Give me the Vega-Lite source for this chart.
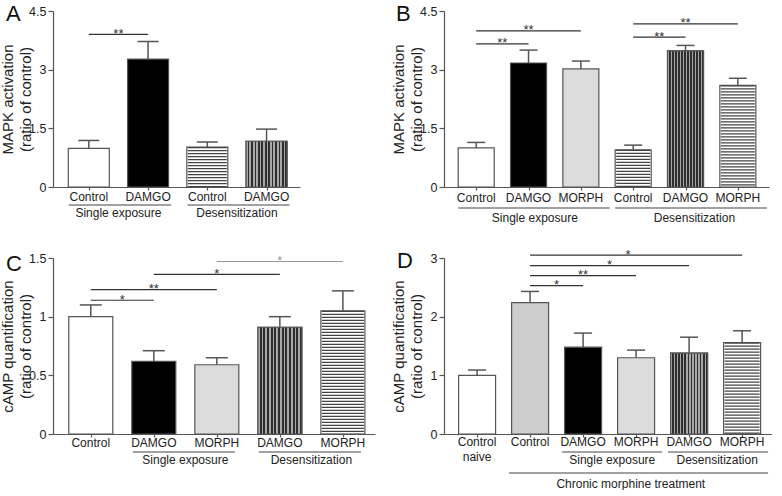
{
"$schema": "https://vega.github.io/schema/vega-lite/v6.json",
"background": "white",
"padding": {"left": 0, "top": 3, "right": 0, "bottom": 0},
"bounds": "flush",
"columns": 2,
"spacing": {"row": 71, "column": 69},
"config": {
  "font": "Liberation Sans",
  "view": {"stroke": null},
  "axis": {"grid": false, "domainColor": "#555", "domainWidth": 1.2, "tickColor": "#555", "tickWidth": 1.2, "labelColor": "#222", "labelFontSize": 12.5, "labelPadding": 2, "titleColor": "#222", "titleFontSize": 15, "titleFontWeight": "normal", "titleLineHeight": 18},
  "title": {"fontSize": 22, "fontWeight": "normal", "color": "#111", "anchor": "start", "frame": "group", "offset": 0, "baseline": "top"}
},
"datasets": {
  "bars": [
    {"panel":"A","i":0,"label":"Control","v":0.99,"hi":1.19,"pat":"white"},
    {"panel":"A","i":1,"label":"DAMGO","v":3.27,"hi":3.72,"pat":"black"},
    {"panel":"A","i":2,"label":"Control","v":1.02,"hi":1.15,"pat":"hstripe"},
    {"panel":"A","i":3,"label":"DAMGO","v":1.17,"hi":1.48,"pat":"vstripe"},
    {"panel":"B","i":0,"label":"Control","v":1.0,"hi":1.14,"pat":"white"},
    {"panel":"B","i":1,"label":"DAMGO","v":3.17,"hi":3.5,"pat":"black"},
    {"panel":"B","i":2,"label":"MORPH","v":3.02,"hi":3.22,"pat":"light"},
    {"panel":"B","i":3,"label":"Control","v":0.95,"hi":1.07,"pat":"hstripe"},
    {"panel":"B","i":4,"label":"DAMGO","v":3.48,"hi":3.62,"pat":"vstripe"},
    {"panel":"B","i":5,"label":"MORPH","v":2.6,"hi":2.78,"pat":"hstripe"},
    {"panel":"C","i":0,"label":"Control","v":1.0,"hi":1.1,"pat":"white"},
    {"panel":"C","i":1,"label":"DAMGO","v":0.62,"hi":0.71,"pat":"black"},
    {"panel":"C","i":2,"label":"MORPH","v":0.59,"hi":0.65,"pat":"light"},
    {"panel":"C","i":3,"label":"DAMGO","v":0.91,"hi":1.0,"pat":"vstripe"},
    {"panel":"C","i":4,"label":"MORPH","v":1.05,"hi":1.22,"pat":"hstripe"},
    {"panel":"D","i":0,"label":"Control\nnaive","v":1.0,"hi":1.09,"pat":"white"},
    {"panel":"D","i":1,"label":"Control","v":2.24,"hi":2.43,"pat":"dot"},
    {"panel":"D","i":2,"label":"DAMGO","v":1.48,"hi":1.72,"pat":"black"},
    {"panel":"D","i":3,"label":"MORPH","v":1.3,"hi":1.43,"pat":"light"},
    {"panel":"D","i":4,"label":"DAMGO","v":1.38,"hi":1.65,"pat":"vstripe"},
    {"panel":"D","i":5,"label":"MORPH","v":1.56,"hi":1.76,"pat":"hstripe"}
  ],
  "sigs": [
    {"panel":"A","a":0,"b":1,"mid":0.5,"y":3.9,"label":"**","tone":"dark"},
    {"panel":"B","a":0,"b":1,"mid":0.5,"y":3.66,"label":"**","tone":"dark"},
    {"panel":"B","a":0,"b":2,"mid":1,"y":3.99,"label":"**","tone":"dark"},
    {"panel":"B","a":3,"b":4,"mid":3.5,"y":3.83,"label":"**","tone":"dark"},
    {"panel":"B","a":3,"b":5,"mid":4,"y":4.17,"label":"**","tone":"dark"},
    {"panel":"C","a":0,"b":1,"mid":0.5,"y":1.14,"label":"*","tone":"dark"},
    {"panel":"C","a":0,"b":2,"mid":1,"y":1.23,"label":"**","tone":"dark"},
    {"panel":"C","a":1,"b":3,"mid":2,"y":1.36,"label":"*","tone":"dark"},
    {"panel":"C","a":2,"b":4,"mid":3,"y":1.47,"label":"*","tone":"light"},
    {"panel":"D","a":1,"b":2,"mid":1.5,"y":2.53,"label":"*","tone":"dark"},
    {"panel":"D","a":1,"b":3,"mid":2,"y":2.7,"label":"**","tone":"dark"},
    {"panel":"D","a":1,"b":4,"mid":2.5,"y":2.87,"label":"*","tone":"dark"},
    {"panel":"D","a":1,"b":5,"mid":2.85,"y":3.05,"label":"*","tone":"dark"}
  ],
  "groups": [
    {"panel":"A","a":0,"b":1,"mid":0.5,"label":"Single exposure","level":1},
    {"panel":"A","a":2,"b":3,"mid":2.5,"label":"Desensitization","level":1},
    {"panel":"B","a":0,"b":2,"mid":1.12,"label":"Single exposure","level":1},
    {"panel":"B","a":3,"b":5,"mid":4.17,"label":"Desensitization","level":1},
    {"panel":"C","a":1,"b":2,"mid":1.5,"label":"Single exposure","level":1},
    {"panel":"C","a":3,"b":4,"mid":3.5,"label":"Desensitization","level":1},
    {"panel":"D","a":2,"b":3,"mid":2.55,"label":"Single exposure","level":1},
    {"panel":"D","a":4,"b":5,"mid":4.53,"label":"Desensitization","level":1},
    {"panel":"D","a":1,"b":5,"mid":2.9,"label":"Chronic morphine treatment","level":2}
  ]
},
"concat": [
{
  "width": 247, "height": 176,
  "title": {"text": "A", "dx": -47, "dy": 25},
  "layer": [
    {"data": {"name": "bars"}, "transform": [{"filter": "datum.panel == 'A'"}],
     "mark": {"type": "bar", "orient": "vertical", "width": 41, "stroke": "#555", "strokeWidth": 1.2},
     "encoding": {
       "x": {"field": "i", "type": "quantitative", "scale": {"domain": [-0.52, 3.48], "nice": false, "zero": false}, "axis": {"values": [0,1,2,3], "labels": false, "tickSize": 3, "title": null}},
       "y": {"field": "v", "type": "quantitative", "scale": {"domain": [0, 4.5], "nice": false}, "axis": {"values": [0,1.5,3,4.5], "format": ".1~f", "tickSize": 5, "title": ["MAPK activation", "(ratio of control)"], "titleX": -38}},
       "fill": {"field": "pat", "type": "nominal", "scale": {"domain": ["white","black","light","dot","hstripe","vstripe"], "range": ["#ffffff","#000000","#dcdcdc","#cdcdcd","#ffffff","#ffffff"]}, "legend": null}
     }},
    {"data": {"name": "bars"}, "transform": [{"filter": "datum.panel == 'A' && datum.pat == 'vstripe'"}],
     "mark": {"type": "bar", "orient": "vertical", "width": 41, "stroke": "#555", "strokeWidth": 1.2,
       "fill": {"gradient":"linear","x1":0,"y1":0,"x2":1,"y2":0,"stops":[{"offset":0,"color":"#a8a8a8"},{"offset":0.0417,"color":"#a8a8a8"},{"offset":0.0417,"color":"#2e2e2e"},{"offset":0.0833,"color":"#2e2e2e"},{"offset":0.0833,"color":"#a8a8a8"},{"offset":0.125,"color":"#a8a8a8"},{"offset":0.125,"color":"#2e2e2e"},{"offset":0.1667,"color":"#2e2e2e"},{"offset":0.1667,"color":"#a8a8a8"},{"offset":0.2083,"color":"#a8a8a8"},{"offset":0.2083,"color":"#2e2e2e"},{"offset":0.25,"color":"#2e2e2e"},{"offset":0.25,"color":"#a8a8a8"},{"offset":0.2917,"color":"#a8a8a8"},{"offset":0.2917,"color":"#2e2e2e"},{"offset":0.3333,"color":"#2e2e2e"},{"offset":0.3333,"color":"#a8a8a8"},{"offset":0.375,"color":"#a8a8a8"},{"offset":0.375,"color":"#2e2e2e"},{"offset":0.4167,"color":"#2e2e2e"},{"offset":0.4167,"color":"#a8a8a8"},{"offset":0.4583,"color":"#a8a8a8"},{"offset":0.4583,"color":"#2e2e2e"},{"offset":0.5,"color":"#2e2e2e"},{"offset":0.5,"color":"#a8a8a8"},{"offset":0.5417,"color":"#a8a8a8"},{"offset":0.5417,"color":"#2e2e2e"},{"offset":0.5833,"color":"#2e2e2e"},{"offset":0.5833,"color":"#a8a8a8"},{"offset":0.625,"color":"#a8a8a8"},{"offset":0.625,"color":"#2e2e2e"},{"offset":0.6667,"color":"#2e2e2e"},{"offset":0.6667,"color":"#a8a8a8"},{"offset":0.7083,"color":"#a8a8a8"},{"offset":0.7083,"color":"#2e2e2e"},{"offset":0.75,"color":"#2e2e2e"},{"offset":0.75,"color":"#a8a8a8"},{"offset":0.7917,"color":"#a8a8a8"},{"offset":0.7917,"color":"#2e2e2e"},{"offset":0.8333,"color":"#2e2e2e"},{"offset":0.8333,"color":"#a8a8a8"},{"offset":0.875,"color":"#a8a8a8"},{"offset":0.875,"color":"#2e2e2e"},{"offset":0.9167,"color":"#2e2e2e"},{"offset":0.9167,"color":"#a8a8a8"},{"offset":0.9583,"color":"#a8a8a8"},{"offset":0.9583,"color":"#2e2e2e"},{"offset":1,"color":"#2e2e2e"}]}},
     "encoding": {"x": {"field": "i", "type": "quantitative"}, "y": {"field": "v", "type": "quantitative", "scale": {"domain": [0, 4.5], "nice": false}, "axis": {"values": [0,1.5,3,4.5], "format": ".1~f", "tickSize": 5, "title": ["MAPK activation", "(ratio of control)"], "titleX": -38}}}},
    {"data": {"name": "bars"}, "transform": [{"filter": "datum.panel == 'A' && datum.pat == 'hstripe'"}],
     "mark": {"type": "rule", "strokeWidth": 39, "strokeDash": [1.2, 1.8], "strokeCap": "butt", "color": "#444"},
     "encoding": {"x": {"field": "i", "type": "quantitative"}, "y": {"field": "v", "type": "quantitative", "scale": {"domain": [0, 4.5], "nice": false}, "axis": {"values": [0,1.5,3,4.5], "format": ".1~f", "tickSize": 5, "title": ["MAPK activation", "(ratio of control)"], "titleX": -38}}, "y2": {"datum": 0}}},
    {"data": {"name": "bars"}, "transform": [{"filter": "datum.panel == 'A'"}],
     "mark": {"type": "rule", "strokeWidth": 1.5, "color": "#555"},
     "encoding": {"x": {"field": "i", "type": "quantitative"}, "y": {"field": "v", "type": "quantitative", "scale": {"domain": [0, 4.5], "nice": false}, "axis": {"values": [0,1.5,3,4.5], "format": ".1~f", "tickSize": 5, "title": ["MAPK activation", "(ratio of control)"], "titleX": -38}}, "y2": {"field": "hi"}}},
    {"data": {"name": "bars"}, "transform": [{"filter": "datum.panel == 'A'"}],
     "mark": {"type": "rule", "strokeWidth": 1.5, "color": "#555", "xOffset": -10.5, "x2Offset": 10.5},
     "encoding": {"x": {"field": "i", "type": "quantitative"}, "x2": {"field": "i"}, "y": {"field": "hi", "type": "quantitative", "scale": {"domain": [0, 4.5], "nice": false}, "axis": {"values": [0,1.5,3,4.5], "format": ".1~f", "tickSize": 5, "title": ["MAPK activation", "(ratio of control)"], "titleX": -38}}}},
    {"data": {"name": "bars"}, "transform": [{"filter": "datum.panel == 'A'"}],
     "mark": {"type": "text", "baseline": "top", "yOffset": 5, "fontSize": 12, "lineBreak": "\n", "color": "#222"},
     "encoding": {"x": {"field": "i", "type": "quantitative"}, "y": {"datum": 0, "type": "quantitative", "scale": {"domain": [0, 4.5], "nice": false}, "axis": {"values": [0,1.5,3,4.5], "format": ".1~f", "tickSize": 5, "title": ["MAPK activation", "(ratio of control)"], "titleX": -38}}, "text": {"field": "label"}}},
    {"data": {"name": "sigs"}, "transform": [{"filter": "datum.panel == 'A'"}],
     "mark": {"type": "rule", "strokeWidth": 1.2},
     "encoding": {"x": {"field": "a", "type": "quantitative"}, "x2": {"field": "b"}, "y": {"field": "y", "type": "quantitative", "scale": {"domain": [0, 4.5], "nice": false}, "axis": {"values": [0,1.5,3,4.5], "format": ".1~f", "tickSize": 5, "title": ["MAPK activation", "(ratio of control)"], "titleX": -38}}, "color": {"field": "tone", "type": "nominal", "scale": {"domain": ["dark","light"], "range": ["#333333","#999999"]}, "legend": null}}},
    {"data": {"name": "sigs"}, "transform": [{"filter": "datum.panel == 'A'"}],
     "mark": {"type": "text", "baseline": "alphabetic", "dy": 3.5, "fontSize": 13},
     "encoding": {"x": {"field": "mid", "type": "quantitative"}, "y": {"field": "y", "type": "quantitative", "scale": {"domain": [0, 4.5], "nice": false}, "axis": {"values": [0,1.5,3,4.5], "format": ".1~f", "tickSize": 5, "title": ["MAPK activation", "(ratio of control)"], "titleX": -38}}, "text": {"field": "label"}, "color": {"field": "tone", "type": "nominal", "legend": null}}},
    {"data": {"name": "groups"}, "transform": [{"filter": "datum.panel == 'A'"}],
     "mark": {"type": "rule", "strokeWidth": 1.2, "color": "#444", "xOffset": -20, "x2Offset": 23, "yOffset": 18},
     "encoding": {"x": {"field": "a", "type": "quantitative"}, "x2": {"field": "b"}, "y": {"datum": 0, "type": "quantitative", "scale": {"domain": [0, 4.5], "nice": false}, "axis": {"values": [0,1.5,3,4.5], "format": ".1~f", "tickSize": 5, "title": ["MAPK activation", "(ratio of control)"], "titleX": -38}}}},
    {"data": {"name": "groups"}, "transform": [{"filter": "datum.panel == 'A'"}],
     "mark": {"type": "text", "baseline": "middle", "yOffset": 26, "fontSize": 12, "color": "#222"},
     "encoding": {"x": {"field": "mid", "type": "quantitative"}, "y": {"datum": 0, "type": "quantitative", "scale": {"domain": [0, 4.5], "nice": false}, "axis": {"values": [0,1.5,3,4.5], "format": ".1~f", "tickSize": 5, "title": ["MAPK activation", "(ratio of control)"], "titleX": -38}}, "text": {"field": "label"}}}
  ]
},
{
  "width": 325, "height": 176,
  "title": {"text": "B", "dx": -48, "dy": 25},
  "layer": [
    {"data": {"name": "bars"}, "transform": [{"filter": "datum.panel == 'B'"}],
     "mark": {"type": "bar", "orient": "vertical", "width": 36, "stroke": "#555", "strokeWidth": 1.2},
     "encoding": {
       "x": {"field": "i", "type": "quantitative", "scale": {"domain": [-0.52, 5.5], "nice": false, "zero": false}, "axis": {"values": [0,1,2,3,4,5], "labels": false, "tickSize": 3, "title": null}},
       "y": {"field": "v", "type": "quantitative", "scale": {"domain": [0, 4.5], "nice": false}, "axis": {"values": [0,1.5,3,4.5], "format": ".1~f", "tickSize": 5, "title": ["MAPK activation", "(ratio of control)"], "titleX": -38}},
       "fill": {"field": "pat", "type": "nominal", "scale": {"domain": ["white","black","light","dot","hstripe","vstripe"], "range": ["#ffffff","#000000","#dcdcdc","#cdcdcd","#ffffff","#ffffff"]}, "legend": null}
     }},
    {"data": {"name": "bars"}, "transform": [{"filter": "datum.panel == 'B' && datum.pat == 'vstripe'"}],
     "mark": {"type": "bar", "orient": "vertical", "width": 36, "stroke": "#555", "strokeWidth": 1.2,
       "fill": {"gradient":"linear","x1":0,"y1":0,"x2":1,"y2":0,"stops":[{"offset":0,"color":"#a8a8a8"},{"offset":0.0417,"color":"#a8a8a8"},{"offset":0.0417,"color":"#2e2e2e"},{"offset":0.0833,"color":"#2e2e2e"},{"offset":0.0833,"color":"#a8a8a8"},{"offset":0.125,"color":"#a8a8a8"},{"offset":0.125,"color":"#2e2e2e"},{"offset":0.1667,"color":"#2e2e2e"},{"offset":0.1667,"color":"#a8a8a8"},{"offset":0.2083,"color":"#a8a8a8"},{"offset":0.2083,"color":"#2e2e2e"},{"offset":0.25,"color":"#2e2e2e"},{"offset":0.25,"color":"#a8a8a8"},{"offset":0.2917,"color":"#a8a8a8"},{"offset":0.2917,"color":"#2e2e2e"},{"offset":0.3333,"color":"#2e2e2e"},{"offset":0.3333,"color":"#a8a8a8"},{"offset":0.375,"color":"#a8a8a8"},{"offset":0.375,"color":"#2e2e2e"},{"offset":0.4167,"color":"#2e2e2e"},{"offset":0.4167,"color":"#a8a8a8"},{"offset":0.4583,"color":"#a8a8a8"},{"offset":0.4583,"color":"#2e2e2e"},{"offset":0.5,"color":"#2e2e2e"},{"offset":0.5,"color":"#a8a8a8"},{"offset":0.5417,"color":"#a8a8a8"},{"offset":0.5417,"color":"#2e2e2e"},{"offset":0.5833,"color":"#2e2e2e"},{"offset":0.5833,"color":"#a8a8a8"},{"offset":0.625,"color":"#a8a8a8"},{"offset":0.625,"color":"#2e2e2e"},{"offset":0.6667,"color":"#2e2e2e"},{"offset":0.6667,"color":"#a8a8a8"},{"offset":0.7083,"color":"#a8a8a8"},{"offset":0.7083,"color":"#2e2e2e"},{"offset":0.75,"color":"#2e2e2e"},{"offset":0.75,"color":"#a8a8a8"},{"offset":0.7917,"color":"#a8a8a8"},{"offset":0.7917,"color":"#2e2e2e"},{"offset":0.8333,"color":"#2e2e2e"},{"offset":0.8333,"color":"#a8a8a8"},{"offset":0.875,"color":"#a8a8a8"},{"offset":0.875,"color":"#2e2e2e"},{"offset":0.9167,"color":"#2e2e2e"},{"offset":0.9167,"color":"#a8a8a8"},{"offset":0.9583,"color":"#a8a8a8"},{"offset":0.9583,"color":"#2e2e2e"},{"offset":1,"color":"#2e2e2e"}]}},
     "encoding": {"x": {"field": "i", "type": "quantitative"}, "y": {"field": "v", "type": "quantitative", "scale": {"domain": [0, 4.5], "nice": false}, "axis": {"values": [0,1.5,3,4.5], "format": ".1~f", "tickSize": 5, "title": ["MAPK activation", "(ratio of control)"], "titleX": -38}}}},
    {"data": {"name": "bars"}, "transform": [{"filter": "datum.panel == 'B' && datum.pat == 'hstripe'"}],
     "mark": {"type": "rule", "strokeWidth": 34, "strokeDash": [1.2, 1.8], "strokeCap": "butt", "color": "#444"},
     "encoding": {"x": {"field": "i", "type": "quantitative"}, "y": {"field": "v", "type": "quantitative", "scale": {"domain": [0, 4.5], "nice": false}, "axis": {"values": [0,1.5,3,4.5], "format": ".1~f", "tickSize": 5, "title": ["MAPK activation", "(ratio of control)"], "titleX": -38}}, "y2": {"datum": 0}}},
    {"data": {"name": "bars"}, "transform": [{"filter": "datum.panel == 'B'"}],
     "mark": {"type": "rule", "strokeWidth": 1.5, "color": "#555"},
     "encoding": {"x": {"field": "i", "type": "quantitative"}, "y": {"field": "v", "type": "quantitative", "scale": {"domain": [0, 4.5], "nice": false}, "axis": {"values": [0,1.5,3,4.5], "format": ".1~f", "tickSize": 5, "title": ["MAPK activation", "(ratio of control)"], "titleX": -38}}, "y2": {"field": "hi"}}},
    {"data": {"name": "bars"}, "transform": [{"filter": "datum.panel == 'B'"}],
     "mark": {"type": "rule", "strokeWidth": 1.5, "color": "#555", "xOffset": -9, "x2Offset": 9},
     "encoding": {"x": {"field": "i", "type": "quantitative"}, "x2": {"field": "i"}, "y": {"field": "hi", "type": "quantitative", "scale": {"domain": [0, 4.5], "nice": false}, "axis": {"values": [0,1.5,3,4.5], "format": ".1~f", "tickSize": 5, "title": ["MAPK activation", "(ratio of control)"], "titleX": -38}}}},
    {"data": {"name": "bars"}, "transform": [{"filter": "datum.panel == 'B'"}],
     "mark": {"type": "text", "baseline": "top", "yOffset": 6, "fontSize": 12, "lineBreak": "\n", "color": "#222"},
     "encoding": {"x": {"field": "i", "type": "quantitative"}, "y": {"datum": 0, "type": "quantitative", "scale": {"domain": [0, 4.5], "nice": false}, "axis": {"values": [0,1.5,3,4.5], "format": ".1~f", "tickSize": 5, "title": ["MAPK activation", "(ratio of control)"], "titleX": -38}}, "text": {"field": "label"}}},
    {"data": {"name": "sigs"}, "transform": [{"filter": "datum.panel == 'B'"}],
     "mark": {"type": "rule", "strokeWidth": 1.2},
     "encoding": {"x": {"field": "a", "type": "quantitative"}, "x2": {"field": "b"}, "y": {"field": "y", "type": "quantitative", "scale": {"domain": [0, 4.5], "nice": false}, "axis": {"values": [0,1.5,3,4.5], "format": ".1~f", "tickSize": 5, "title": ["MAPK activation", "(ratio of control)"], "titleX": -38}}, "color": {"field": "tone", "type": "nominal", "scale": {"domain": ["dark","light"], "range": ["#333333","#999999"]}, "legend": null}}},
    {"data": {"name": "sigs"}, "transform": [{"filter": "datum.panel == 'B'"}],
     "mark": {"type": "text", "baseline": "alphabetic", "dy": 3.5, "fontSize": 13},
     "encoding": {"x": {"field": "mid", "type": "quantitative"}, "y": {"field": "y", "type": "quantitative", "scale": {"domain": [0, 4.5], "nice": false}, "axis": {"values": [0,1.5,3,4.5], "format": ".1~f", "tickSize": 5, "title": ["MAPK activation", "(ratio of control)"], "titleX": -38}}, "text": {"field": "label"}, "color": {"field": "tone", "type": "nominal", "legend": null}}},
    {"data": {"name": "groups"}, "transform": [{"filter": "datum.panel == 'B'"}],
     "mark": {"type": "rule", "strokeWidth": 1.2, "color": "#444", "xOffset": -18, "x2Offset": 29, "yOffset": 21},
     "encoding": {"x": {"field": "a", "type": "quantitative"}, "x2": {"field": "b"}, "y": {"datum": 0, "type": "quantitative", "scale": {"domain": [0, 4.5], "nice": false}, "axis": {"values": [0,1.5,3,4.5], "format": ".1~f", "tickSize": 5, "title": ["MAPK activation", "(ratio of control)"], "titleX": -38}}}},
    {"data": {"name": "groups"}, "transform": [{"filter": "datum.panel == 'B'"}],
     "mark": {"type": "text", "baseline": "middle", "yOffset": 31, "fontSize": 12, "color": "#222"},
     "encoding": {"x": {"field": "mid", "type": "quantitative"}, "y": {"datum": 0, "type": "quantitative", "scale": {"domain": [0, 4.5], "nice": false}, "axis": {"values": [0,1.5,3,4.5], "format": ".1~f", "tickSize": 5, "title": ["MAPK activation", "(ratio of control)"], "titleX": -38}}, "text": {"field": "label"}}}
  ]
},
{
  "width": 322, "height": 176,
  "title": {"text": "C", "dx": -47, "dy": 28},
  "layer": [
    {"data": {"name": "bars"}, "transform": [{"filter": "datum.panel == 'C'"}],
     "mark": {"type": "bar", "orient": "vertical", "width": 44, "stroke": "#555", "strokeWidth": 1.2},
     "encoding": {
       "x": {"field": "i", "type": "quantitative", "scale": {"domain": [-0.52, 4.43], "nice": false, "zero": false}, "axis": {"values": [0,1,2,3,4], "labels": false, "tickSize": 3, "title": null}},
       "y": {"field": "v", "type": "quantitative", "scale": {"domain": [0, 1.5], "nice": false}, "axis": {"values": [0,0.5,1,1.5], "format": ".1~f", "tickSize": 5, "title": ["cAMP quantification", "(ratio of control)"], "titleX": -38}},
       "fill": {"field": "pat", "type": "nominal", "scale": {"domain": ["white","black","light","dot","hstripe","vstripe"], "range": ["#ffffff","#000000","#dcdcdc","#cdcdcd","#ffffff","#ffffff"]}, "legend": null}
     }},
    {"data": {"name": "bars"}, "transform": [{"filter": "datum.panel == 'C' && datum.pat == 'vstripe'"}],
     "mark": {"type": "bar", "orient": "vertical", "width": 44, "stroke": "#555", "strokeWidth": 1.2,
       "fill": {"gradient":"linear","x1":0,"y1":0,"x2":1,"y2":0,"stops":[{"offset":0,"color":"#a8a8a8"},{"offset":0.0417,"color":"#a8a8a8"},{"offset":0.0417,"color":"#2e2e2e"},{"offset":0.0833,"color":"#2e2e2e"},{"offset":0.0833,"color":"#a8a8a8"},{"offset":0.125,"color":"#a8a8a8"},{"offset":0.125,"color":"#2e2e2e"},{"offset":0.1667,"color":"#2e2e2e"},{"offset":0.1667,"color":"#a8a8a8"},{"offset":0.2083,"color":"#a8a8a8"},{"offset":0.2083,"color":"#2e2e2e"},{"offset":0.25,"color":"#2e2e2e"},{"offset":0.25,"color":"#a8a8a8"},{"offset":0.2917,"color":"#a8a8a8"},{"offset":0.2917,"color":"#2e2e2e"},{"offset":0.3333,"color":"#2e2e2e"},{"offset":0.3333,"color":"#a8a8a8"},{"offset":0.375,"color":"#a8a8a8"},{"offset":0.375,"color":"#2e2e2e"},{"offset":0.4167,"color":"#2e2e2e"},{"offset":0.4167,"color":"#a8a8a8"},{"offset":0.4583,"color":"#a8a8a8"},{"offset":0.4583,"color":"#2e2e2e"},{"offset":0.5,"color":"#2e2e2e"},{"offset":0.5,"color":"#a8a8a8"},{"offset":0.5417,"color":"#a8a8a8"},{"offset":0.5417,"color":"#2e2e2e"},{"offset":0.5833,"color":"#2e2e2e"},{"offset":0.5833,"color":"#a8a8a8"},{"offset":0.625,"color":"#a8a8a8"},{"offset":0.625,"color":"#2e2e2e"},{"offset":0.6667,"color":"#2e2e2e"},{"offset":0.6667,"color":"#a8a8a8"},{"offset":0.7083,"color":"#a8a8a8"},{"offset":0.7083,"color":"#2e2e2e"},{"offset":0.75,"color":"#2e2e2e"},{"offset":0.75,"color":"#a8a8a8"},{"offset":0.7917,"color":"#a8a8a8"},{"offset":0.7917,"color":"#2e2e2e"},{"offset":0.8333,"color":"#2e2e2e"},{"offset":0.8333,"color":"#a8a8a8"},{"offset":0.875,"color":"#a8a8a8"},{"offset":0.875,"color":"#2e2e2e"},{"offset":0.9167,"color":"#2e2e2e"},{"offset":0.9167,"color":"#a8a8a8"},{"offset":0.9583,"color":"#a8a8a8"},{"offset":0.9583,"color":"#2e2e2e"},{"offset":1,"color":"#2e2e2e"}]}},
     "encoding": {"x": {"field": "i", "type": "quantitative"}, "y": {"field": "v", "type": "quantitative", "scale": {"domain": [0, 1.5], "nice": false}, "axis": {"values": [0,0.5,1,1.5], "format": ".1~f", "tickSize": 5, "title": ["cAMP quantification", "(ratio of control)"], "titleX": -38}}}},
    {"data": {"name": "bars"}, "transform": [{"filter": "datum.panel == 'C' && datum.pat == 'hstripe'"}],
     "mark": {"type": "rule", "strokeWidth": 42, "strokeDash": [1.2, 1.8], "strokeCap": "butt", "color": "#444"},
     "encoding": {"x": {"field": "i", "type": "quantitative"}, "y": {"field": "v", "type": "quantitative", "scale": {"domain": [0, 1.5], "nice": false}, "axis": {"values": [0,0.5,1,1.5], "format": ".1~f", "tickSize": 5, "title": ["cAMP quantification", "(ratio of control)"], "titleX": -38}}, "y2": {"datum": 0}}},
    {"data": {"name": "bars"}, "transform": [{"filter": "datum.panel == 'C'"}],
     "mark": {"type": "rule", "strokeWidth": 1.5, "color": "#555"},
     "encoding": {"x": {"field": "i", "type": "quantitative"}, "y": {"field": "v", "type": "quantitative", "scale": {"domain": [0, 1.5], "nice": false}, "axis": {"values": [0,0.5,1,1.5], "format": ".1~f", "tickSize": 5, "title": ["cAMP quantification", "(ratio of control)"], "titleX": -38}}, "y2": {"field": "hi"}}},
    {"data": {"name": "bars"}, "transform": [{"filter": "datum.panel == 'C'"}],
     "mark": {"type": "rule", "strokeWidth": 1.5, "color": "#555", "xOffset": -11, "x2Offset": 11},
     "encoding": {"x": {"field": "i", "type": "quantitative"}, "x2": {"field": "i"}, "y": {"field": "hi", "type": "quantitative", "scale": {"domain": [0, 1.5], "nice": false}, "axis": {"values": [0,0.5,1,1.5], "format": ".1~f", "tickSize": 5, "title": ["cAMP quantification", "(ratio of control)"], "titleX": -38}}}},
    {"data": {"name": "bars"}, "transform": [{"filter": "datum.panel == 'C'"}],
     "mark": {"type": "text", "baseline": "top", "yOffset": 4, "fontSize": 12, "lineBreak": "\n", "color": "#222"},
     "encoding": {"x": {"field": "i", "type": "quantitative"}, "y": {"datum": 0, "type": "quantitative", "scale": {"domain": [0, 1.5], "nice": false}, "axis": {"values": [0,0.5,1,1.5], "format": ".1~f", "tickSize": 5, "title": ["cAMP quantification", "(ratio of control)"], "titleX": -38}}, "text": {"field": "label"}}},
    {"data": {"name": "sigs"}, "transform": [{"filter": "datum.panel == 'C'"}],
     "mark": {"type": "rule", "strokeWidth": 1.2},
     "encoding": {"x": {"field": "a", "type": "quantitative"}, "x2": {"field": "b"}, "y": {"field": "y", "type": "quantitative", "scale": {"domain": [0, 1.5], "nice": false}, "axis": {"values": [0,0.5,1,1.5], "format": ".1~f", "tickSize": 5, "title": ["cAMP quantification", "(ratio of control)"], "titleX": -38}}, "color": {"field": "tone", "type": "nominal", "scale": {"domain": ["dark","light"], "range": ["#333333","#999999"]}, "legend": null}}},
    {"data": {"name": "sigs"}, "transform": [{"filter": "datum.panel == 'C'"}],
     "mark": {"type": "text", "baseline": "alphabetic", "dy": 3.5, "fontSize": 13},
     "encoding": {"x": {"field": "mid", "type": "quantitative"}, "y": {"field": "y", "type": "quantitative", "scale": {"domain": [0, 1.5], "nice": false}, "axis": {"values": [0,0.5,1,1.5], "format": ".1~f", "tickSize": 5, "title": ["cAMP quantification", "(ratio of control)"], "titleX": -38}}, "text": {"field": "label"}, "color": {"field": "tone", "type": "nominal", "legend": null}}},
    {"data": {"name": "groups"}, "transform": [{"filter": "datum.panel == 'C'"}],
     "mark": {"type": "rule", "strokeWidth": 1.2, "color": "#444", "xOffset": -21, "x2Offset": 18, "yOffset": 18},
     "encoding": {"x": {"field": "a", "type": "quantitative"}, "x2": {"field": "b"}, "y": {"datum": 0, "type": "quantitative", "scale": {"domain": [0, 1.5], "nice": false}, "axis": {"values": [0,0.5,1,1.5], "format": ".1~f", "tickSize": 5, "title": ["cAMP quantification", "(ratio of control)"], "titleX": -38}}}},
    {"data": {"name": "groups"}, "transform": [{"filter": "datum.panel == 'C'"}],
     "mark": {"type": "text", "baseline": "middle", "yOffset": 26, "fontSize": 12, "color": "#222"},
     "encoding": {"x": {"field": "mid", "type": "quantitative"}, "y": {"datum": 0, "type": "quantitative", "scale": {"domain": [0, 1.5], "nice": false}, "axis": {"values": [0,0.5,1,1.5], "format": ".1~f", "tickSize": 5, "title": ["cAMP quantification", "(ratio of control)"], "titleX": -38}}, "text": {"field": "label"}}}
  ]
},
{
  "width": 328, "height": 176,
  "title": {"text": "D", "dx": -47, "dy": 28},
  "layer": [
    {"data": {"name": "bars"}, "transform": [{"filter": "datum.panel == 'D'"}],
     "mark": {"type": "bar", "orient": "vertical", "width": 37, "stroke": "#555", "strokeWidth": 1.2},
     "encoding": {
       "x": {"field": "i", "type": "quantitative", "scale": {"domain": [-0.53, 5.47], "nice": false, "zero": false}, "axis": {"values": [0,1,2,3,4,5], "labels": false, "tickSize": 3, "title": null}},
       "y": {"field": "v", "type": "quantitative", "scale": {"domain": [0, 3], "nice": false}, "axis": {"values": [0,1,2,3], "format": "~g", "tickSize": 5, "title": ["cAMP quantification", "(ratio of control)"], "titleX": -38}},
       "fill": {"field": "pat", "type": "nominal", "scale": {"domain": ["white","black","light","dot","hstripe","vstripe"], "range": ["#ffffff","#000000","#dcdcdc","#cdcdcd","#ffffff","#ffffff"]}, "legend": null}
     }},
    {"data": {"name": "bars"}, "transform": [{"filter": "datum.panel == 'D' && datum.pat == 'vstripe'"}],
     "mark": {"type": "bar", "orient": "vertical", "width": 37, "stroke": "#555", "strokeWidth": 1.2,
       "fill": {"gradient":"linear","x1":0,"y1":0,"x2":1,"y2":0,"stops":[{"offset":0,"color":"#a8a8a8"},{"offset":0.0417,"color":"#a8a8a8"},{"offset":0.0417,"color":"#2e2e2e"},{"offset":0.0833,"color":"#2e2e2e"},{"offset":0.0833,"color":"#a8a8a8"},{"offset":0.125,"color":"#a8a8a8"},{"offset":0.125,"color":"#2e2e2e"},{"offset":0.1667,"color":"#2e2e2e"},{"offset":0.1667,"color":"#a8a8a8"},{"offset":0.2083,"color":"#a8a8a8"},{"offset":0.2083,"color":"#2e2e2e"},{"offset":0.25,"color":"#2e2e2e"},{"offset":0.25,"color":"#a8a8a8"},{"offset":0.2917,"color":"#a8a8a8"},{"offset":0.2917,"color":"#2e2e2e"},{"offset":0.3333,"color":"#2e2e2e"},{"offset":0.3333,"color":"#a8a8a8"},{"offset":0.375,"color":"#a8a8a8"},{"offset":0.375,"color":"#2e2e2e"},{"offset":0.4167,"color":"#2e2e2e"},{"offset":0.4167,"color":"#a8a8a8"},{"offset":0.4583,"color":"#a8a8a8"},{"offset":0.4583,"color":"#2e2e2e"},{"offset":0.5,"color":"#2e2e2e"},{"offset":0.5,"color":"#a8a8a8"},{"offset":0.5417,"color":"#a8a8a8"},{"offset":0.5417,"color":"#2e2e2e"},{"offset":0.5833,"color":"#2e2e2e"},{"offset":0.5833,"color":"#a8a8a8"},{"offset":0.625,"color":"#a8a8a8"},{"offset":0.625,"color":"#2e2e2e"},{"offset":0.6667,"color":"#2e2e2e"},{"offset":0.6667,"color":"#a8a8a8"},{"offset":0.7083,"color":"#a8a8a8"},{"offset":0.7083,"color":"#2e2e2e"},{"offset":0.75,"color":"#2e2e2e"},{"offset":0.75,"color":"#a8a8a8"},{"offset":0.7917,"color":"#a8a8a8"},{"offset":0.7917,"color":"#2e2e2e"},{"offset":0.8333,"color":"#2e2e2e"},{"offset":0.8333,"color":"#a8a8a8"},{"offset":0.875,"color":"#a8a8a8"},{"offset":0.875,"color":"#2e2e2e"},{"offset":0.9167,"color":"#2e2e2e"},{"offset":0.9167,"color":"#a8a8a8"},{"offset":0.9583,"color":"#a8a8a8"},{"offset":0.9583,"color":"#2e2e2e"},{"offset":1,"color":"#2e2e2e"}]}},
     "encoding": {"x": {"field": "i", "type": "quantitative"}, "y": {"field": "v", "type": "quantitative", "scale": {"domain": [0, 3], "nice": false}, "axis": {"values": [0,1,2,3], "format": "~g", "tickSize": 5, "title": ["cAMP quantification", "(ratio of control)"], "titleX": -38}}}},
    {"data": {"name": "bars"}, "transform": [{"filter": "datum.panel == 'D' && datum.pat == 'hstripe'"}],
     "mark": {"type": "rule", "strokeWidth": 35, "strokeDash": [1.2, 1.8], "strokeCap": "butt", "color": "#444"},
     "encoding": {"x": {"field": "i", "type": "quantitative"}, "y": {"field": "v", "type": "quantitative", "scale": {"domain": [0, 3], "nice": false}, "axis": {"values": [0,1,2,3], "format": "~g", "tickSize": 5, "title": ["cAMP quantification", "(ratio of control)"], "titleX": -38}}, "y2": {"datum": 0}}},
    {"data": {"name": "bars"}, "transform": [{"filter": "datum.panel == 'D'"}],
     "mark": {"type": "rule", "strokeWidth": 1.5, "color": "#555"},
     "encoding": {"x": {"field": "i", "type": "quantitative"}, "y": {"field": "v", "type": "quantitative", "scale": {"domain": [0, 3], "nice": false}, "axis": {"values": [0,1,2,3], "format": "~g", "tickSize": 5, "title": ["cAMP quantification", "(ratio of control)"], "titleX": -38}}, "y2": {"field": "hi"}}},
    {"data": {"name": "bars"}, "transform": [{"filter": "datum.panel == 'D'"}],
     "mark": {"type": "rule", "strokeWidth": 1.5, "color": "#555", "xOffset": -9, "x2Offset": 9},
     "encoding": {"x": {"field": "i", "type": "quantitative"}, "x2": {"field": "i"}, "y": {"field": "hi", "type": "quantitative", "scale": {"domain": [0, 3], "nice": false}, "axis": {"values": [0,1,2,3], "format": "~g", "tickSize": 5, "title": ["cAMP quantification", "(ratio of control)"], "titleX": -38}}}},
    {"data": {"name": "bars"}, "transform": [{"filter": "datum.panel == 'D'"}],
     "mark": {"type": "text", "baseline": "top", "yOffset": 3, "fontSize": 12, "lineBreak": "\n", "lineHeight": 15, "color": "#222"},
     "encoding": {"x": {"field": "i", "type": "quantitative"}, "y": {"datum": 0, "type": "quantitative", "scale": {"domain": [0, 3], "nice": false}, "axis": {"values": [0,1,2,3], "format": "~g", "tickSize": 5, "title": ["cAMP quantification", "(ratio of control)"], "titleX": -38}}, "text": {"field": "label"}}},
    {"data": {"name": "sigs"}, "transform": [{"filter": "datum.panel == 'D'"}],
     "mark": {"type": "rule", "strokeWidth": 1.2},
     "encoding": {"x": {"field": "a", "type": "quantitative"}, "x2": {"field": "b"}, "y": {"field": "y", "type": "quantitative", "scale": {"domain": [0, 3], "nice": false}, "axis": {"values": [0,1,2,3], "format": "~g", "tickSize": 5, "title": ["cAMP quantification", "(ratio of control)"], "titleX": -38}}, "color": {"field": "tone", "type": "nominal", "scale": {"domain": ["dark","light"], "range": ["#333333","#999999"]}, "legend": null}}},
    {"data": {"name": "sigs"}, "transform": [{"filter": "datum.panel == 'D'"}],
     "mark": {"type": "text", "baseline": "alphabetic", "dy": 3.5, "fontSize": 13},
     "encoding": {"x": {"field": "mid", "type": "quantitative"}, "y": {"field": "y", "type": "quantitative", "scale": {"domain": [0, 3], "nice": false}, "axis": {"values": [0,1,2,3], "format": "~g", "tickSize": 5, "title": ["cAMP quantification", "(ratio of control)"], "titleX": -38}}, "text": {"field": "label"}, "color": {"field": "tone", "type": "nominal", "legend": null}}},
    {"data": {"name": "groups"}, "transform": [{"filter": "datum.panel == 'D' && datum.level == 1"}],
     "mark": {"type": "rule", "strokeWidth": 1.2, "color": "#444", "xOffset": -21, "x2Offset": 26, "yOffset": 18},
     "encoding": {"x": {"field": "a", "type": "quantitative"}, "x2": {"field": "b"}, "y": {"datum": 0, "type": "quantitative", "scale": {"domain": [0, 3], "nice": false}, "axis": {"values": [0,1,2,3], "format": "~g", "tickSize": 5, "title": ["cAMP quantification", "(ratio of control)"], "titleX": -38}}}},
    {"data": {"name": "groups"}, "transform": [{"filter": "datum.panel == 'D' && datum.level == 1"}],
     "mark": {"type": "text", "baseline": "middle", "yOffset": 26, "fontSize": 12, "color": "#222"},
     "encoding": {"x": {"field": "mid", "type": "quantitative"}, "y": {"datum": 0, "type": "quantitative", "scale": {"domain": [0, 3], "nice": false}, "axis": {"values": [0,1,2,3], "format": "~g", "tickSize": 5, "title": ["cAMP quantification", "(ratio of control)"], "titleX": -38}}, "text": {"field": "label"}}},
    {"data": {"name": "groups"}, "transform": [{"filter": "datum.panel == 'D' && datum.level == 2"}],
     "mark": {"type": "rule", "strokeWidth": 1.2, "color": "#444", "xOffset": -21, "x2Offset": 26, "yOffset": 39},
     "encoding": {"x": {"field": "a", "type": "quantitative"}, "x2": {"field": "b"}, "y": {"datum": 0, "type": "quantitative", "scale": {"domain": [0, 3], "nice": false}, "axis": {"values": [0,1,2,3], "format": "~g", "tickSize": 5, "title": ["cAMP quantification", "(ratio of control)"], "titleX": -38}}}},
    {"data": {"name": "groups"}, "transform": [{"filter": "datum.panel == 'D' && datum.level == 2"}],
     "mark": {"type": "text", "baseline": "middle", "yOffset": 50, "fontSize": 12, "color": "#222"},
     "encoding": {"x": {"field": "mid", "type": "quantitative"}, "y": {"datum": 0, "type": "quantitative", "scale": {"domain": [0, 3], "nice": false}, "axis": {"values": [0,1,2,3], "format": "~g", "tickSize": 5, "title": ["cAMP quantification", "(ratio of control)"], "titleX": -38}}, "text": {"field": "label"}}}
  ]
}
]
}
